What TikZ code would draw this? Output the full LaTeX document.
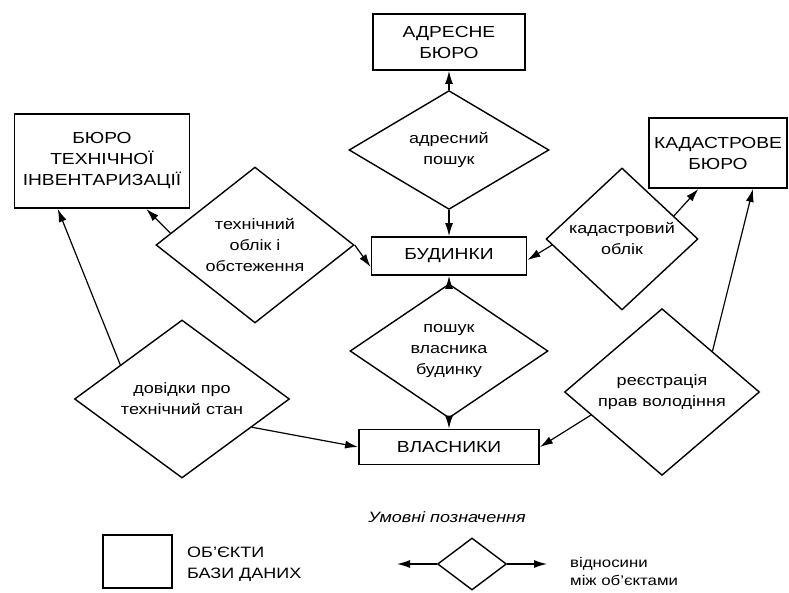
\documentclass[tikz,border=0pt]{standalone}
\usepackage{fontspec}
\setmainfont{Liberation Sans}[FakeStretch=1.2]
\usetikzlibrary{shapes.geometric,arrows.meta,calc}

\begin{document}
\begin{tikzpicture}[x=1pt,y=-1pt,
	entity/.style={draw,line width=1.9pt,align=center,inner sep=0pt,font=\fontsize{16}{21}\selectfont},
	relation/.style={draw,diamond,line width=1.4pt,align=center,inner sep=1pt,font=\fontsize{15}{21}\selectfont},
	legtext/.style={align=left,inner sep=0pt,font=\fontsize{15}{21}\selectfont},
	link/.style={line width=1.2pt,-{Latex[length=13pt,width=8pt]}}]
\useasboundingbox (0,0) rectangle (789,593);

	% objects
	\node[entity,minimum width=152pt,minimum height=56pt] (adr) at (449,42) {АДРЕСНЕ\\БЮРО};
	\node[entity,minimum width=175pt,minimum height=94pt] (bti) at (102,161) {БЮРО\\ТЕХНІЧНОЇ\\ІНВЕНТАРИЗАЦІЇ};
	\node[entity,minimum width=138pt,minimum height=70pt] (kb) at (718,153) {КАДАСТРОВЕ\\БЮРО};
	\node[entity,minimum width=155pt,minimum height=38pt] (bud) at (449,256) {БУДИНКИ};
	\node[entity,minimum width=180pt,minimum height=35pt] (vlas) at (449,447) {ВЛАСНИКИ};

	% relations
	\node[relation,minimum width=200pt,minimum height=96pt] (adrposhuk) at (449,150) {адресний\\пошук};
	\node[relation,minimum width=198pt,minimum height=135pt] (tech) at (255,245) {технічний\\облік і\\обстеження};
	\node[relation,minimum width=152pt,minimum height=108pt] (kadoblik) at (622,239) {кадастровий\\облік};
	\node[relation,minimum width=198pt,minimum height=92pt] (poshuk) at (449,351) {пошук\\власника\\будинку};
	\node[relation,minimum width=215pt,minimum height=120pt] (dovidky) at (182,399) {довідки про\\технічний стан};
	\node[relation,minimum width=195pt,minimum height=125pt] (reyestr) at (662,392) {реєстрація\\прав володіння};

	\draw[link] (adrposhuk.north) -- (adr.south);
	\draw[link] (adrposhuk.south) -- (bud.north);
	\draw[link] (tech.172) -- ($(bti.south west)!0.75!(bti.south east)$);
	\draw[link] (tech.east) -- ([yshift=-11pt]bud.west);
	\draw[link] (kadoblik.185) -- ([yshift=-4pt]bud.east);
	\draw[link] (kadoblik.24) -- ($(kb.south west)!0.36!(kb.south east)$);
	\draw[link] (poshuk.north) -- (bud.south);
	\draw[link] (poshuk.south) -- (vlas.north);
	\draw[link] (dovidky.151) -- ($(bti.south west)!0.25!(bti.south east)$);
	\draw[link] (dovidky.-22) -- (vlas.west);
	\draw[link] (reyestr.39) -- ($(kb.south west)!0.75!(kb.south east)$);
	\draw[link] (reyestr.198) -- (vlas.east);

	% legend
	\node[font=\fontsize{15}{18}\selectfont\itshape] (legtitle) at (447,517) {Умовні позначення};
	\node[entity,minimum width=69pt,minimum height=53pt] (legbox) at (137.5,561.5) {};
	\node[legtext,anchor=west] (legboxtext) at (187,564) {ОБ’ЄКТИ\\БАЗИ ДАНИХ};
	\node[draw,diamond,line width=1.4pt,minimum width=69pt,minimum height=52pt,inner sep=0pt] (legrel) at (472,564) {};
	\coordinate (legleft) at (397,564);
	\coordinate (legright) at (547,564);
	\draw[link] (legrel.west) -- (legleft);
	\draw[link] (legrel.east) -- (legright);
	\node[legtext,anchor=west,font=\fontsize{14}{18}\selectfont] (legreltext) at (570,571) {відносини\\між об’єктами};
\end{tikzpicture}
\end{document}
